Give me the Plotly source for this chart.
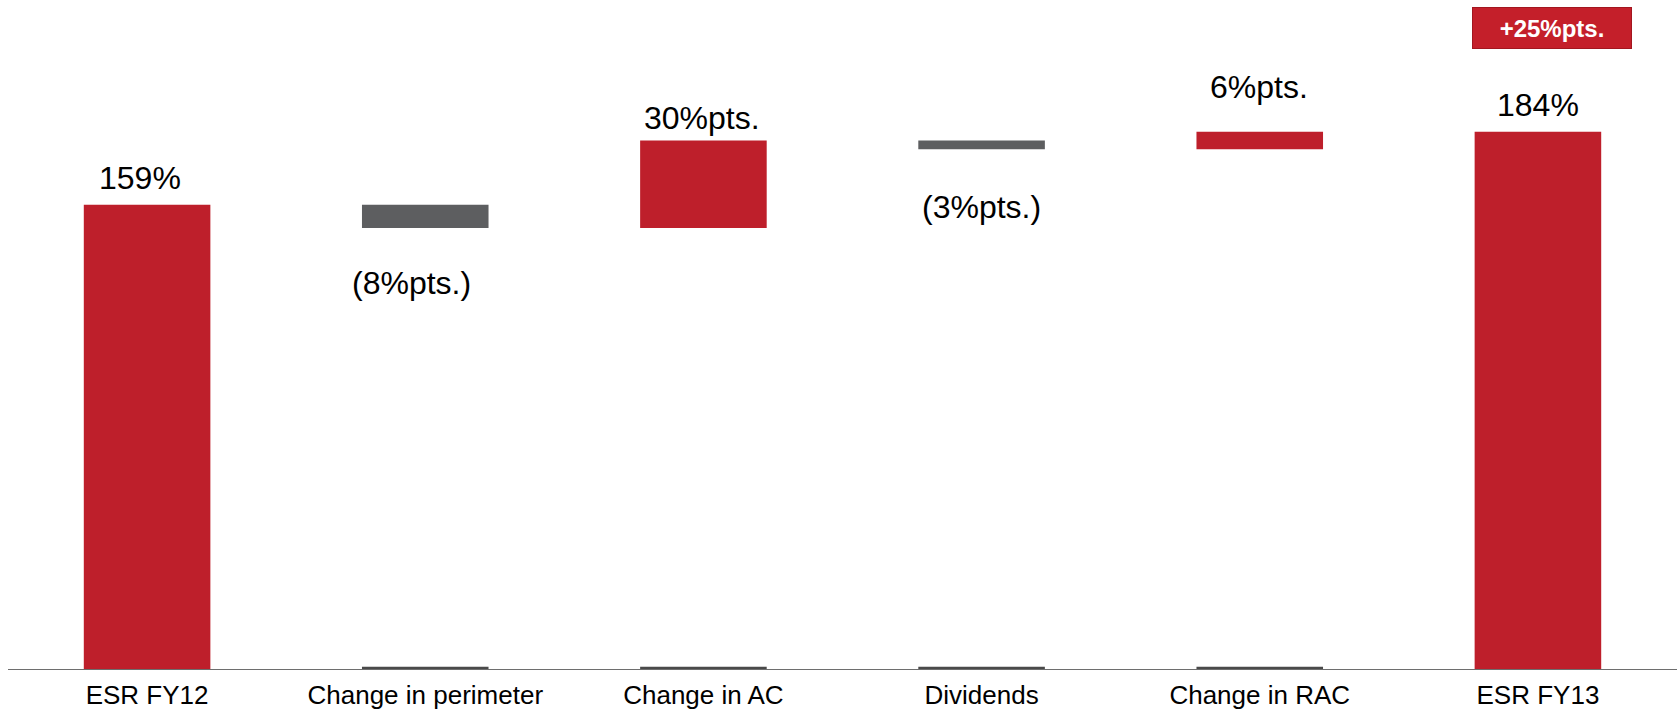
import plotly.graph_objects as go

# ---- data ----
categories = ["ESR FY12", "Change in perimeter", "Change in AC", "Dividends", "Change in RAC", "ESR FY13"]
values = [159, -8, 30, -3, 6, 184]
measures = ["total", "relative", "relative", "relative", "relative", "total"]
labels = ["159%", "(8%pts.)", "30%pts.", "(3%pts.)", "6%pts.", "184%"]

# ---- styles ----
RED = "#BE1F2B"
GRAY = "#5D5E60"
label_offsets_px = [27, -55, 22, -58, 45, 27]  # vertical distance of label centre from bar edge
label_xshift_px = [-7, -14, -1, 0, -1, 0]
FONT = "Liberation Sans, Arial, sans-serif"

# compute waterfall geometry from data
bases, heights, colors, tops, bottoms = [], [], [], [], []
running = 0
for v, m in zip(values, measures):
    if m == "total":
        b, h = 0, v
        running = v
        colors.append(RED)
    else:
        if v >= 0:
            b, h = running, v
            colors.append(RED)
        else:
            b, h = running + v, -v
            colors.append(GRAY)
        running += v
    bases.append(b)
    heights.append(h)
    bottoms.append(b)
    tops.append(b + h)

fig = go.Figure()
fig.add_trace(go.Bar(
    x=categories, y=heights, base=bases,
    marker=dict(color=colors, line=dict(width=0)),
    width=0.455, hoverinfo="skip", showlegend=False,
))
# dark underline on the axis under the change bars
rel_cats = [c for c, m in zip(categories, measures) if m == "relative"]
fig.add_trace(go.Bar(
    x=rel_cats, y=[0.8] * len(rel_cats), base=[0] * len(rel_cats),
    marker=dict(color="#4A4A4A", line=dict(width=0)),
    width=0.455, hoverinfo="skip", showlegend=False,
))

annotations = []
for i, (c, v, lab) in enumerate(zip(categories, values, labels)):
    yv = tops[i] if v >= 0 else bottoms[i]
    annotations.append(dict(
        x=c, y=yv, xref="x", yref="y", text=lab, showarrow=False,
        yanchor="middle", yshift=label_offsets_px[i], xshift=label_xshift_px[i],
        font=dict(family=FONT, size=32, color="#000000"),
    ))

total_change = values[-1] - values[0]
annotations.append(dict(
    x=categories[-1], xref="x", xshift=14,
    y=1 - 28 / 669, yref="paper", yanchor="middle",
    text="<b>+%d%%pts.</b>" % total_change, showarrow=False,
    font=dict(family=FONT, size=24, color="#FFFFFF"),
    bgcolor="#C41F2A", bordercolor="#A3161F", borderwidth=1,
    borderpad=1, width=156, height=38, align="center", valign="middle",
))

fig.update_layout(
    width=1678, height=710,
    margin=dict(l=8, r=1, t=0, b=41),
    paper_bgcolor="white", plot_bgcolor="white",
    barmode="overlay",
    annotations=annotations,
    xaxis=dict(
        type="category", range=[-0.5, 5.5],
        showline=True, linecolor="#6E6E6E", linewidth=1,
        ticks="", showgrid=False, zeroline=False,
        tickfont=dict(family=FONT, size=26, color="#000000"),
        ticklabelstandoff=3,
    ),
    yaxis=dict(range=[0, 229.1], visible=False, showgrid=False, zeroline=False),
)

fig.write_html("out.html")
